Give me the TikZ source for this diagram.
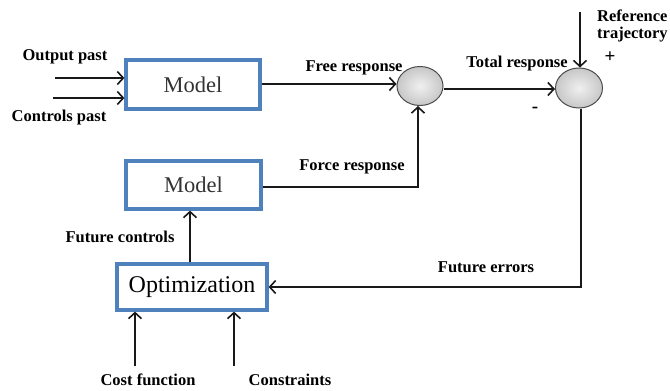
\documentclass[tikz,border=0pt]{standalone}
\usepackage{fontspec}
\setmainfont{Liberation Serif}
\usetikzlibrary{arrows.meta,shapes.geometric}
\definecolor{boxblue}{HTML}{4F81BD}
\tikzset{
  blk/.style={draw=boxblue, line width=3.2pt, fill=white, inner sep=0pt},
  sumnode/.style={ellipse, draw=black!70, line width=1pt, inner sep=0pt,
    minimum width=46pt, minimum height=39pt, shading=radial,
    inner color=black!6, outer color=black!22},
  wire/.style={line width=1.7pt, black!90},
  arr/.style={wire, -{Straight Barb[length=6pt,width=13pt,line width=1.6pt]}},
  lbl/.style={font=\fontsize{16.5}{18}\selectfont\bfseries, inner sep=0pt}
}
\begin{document}
\begin{tikzpicture}[x=1pt,y=-1pt]
\useasboundingbox (0,0) rectangle (670,391);
\clip (0,0) rectangle (670,391);
\fill[white] (0,0) rectangle (670,391);

% blocks
\node[blk, minimum width=134pt, minimum height=49pt,
  font=\fontsize{22.5}{24}\selectfont, text=black!80] (m1) at (193,84.5) {Model};
\node[blk, minimum width=135pt, minimum height=48pt,
  font=\fontsize{22.5}{24}\selectfont, text=black!80] (m2) at (193.5,185) {Model};
\node[blk, minimum width=150pt, minimum height=46pt,
  font=\fontsize{24}{26}\selectfont] (opt) at (192,287) {Optimization};

% summing junctions
\node[sumnode] (s1) at (420,86) {};
\node[sumnode, minimum width=47pt, minimum height=40pt] (s2) at (579,88) {};

% free ends
\coordinate (op) at (55,78);
\coordinate (cp) at (53,98);
\coordinate (ref) at (580,12);
\coordinate (cf) at (135,366);
\coordinate (cs) at (234,366);

% past inputs
\draw[arr] (op) -- (op -| m1.west);
\draw[arr] (cp) -- (cp -| m1.west);

% responses
\draw[arr] (m1.east |- 0,84) -- (s1.west |- 0,84);
\draw[arr] (m2.east |- 0,187) -| (418,0 |- s1.south);
\draw[arr] (s1.east |- 0,89) -- (s2.west |- 0,89);
\draw[arr] (ref) -- (s2.north -| ref);

% error feedback and control path
\draw[arr] (s2.south -| 581,0) |- (opt.east |- 0,287);
\draw[arr] (opt.north -| 190,0) -- (m2.south -| 190,0);
\draw[arr] (cf) -- (opt.south -| cf);
\draw[arr] (cs) -- (opt.south -| cs);

% labels
\node[lbl] (lop) at (65,57) {Output past};
\node[lbl] (lcp) at (59,118) {Controls past};
\node[lbl] (lfr) at (354,68) {Free response};
\node[lbl] (ltr) at (517,64) {Total response};
\node[lbl, anchor=west] (lref) at (597,16) {Reference};
\node[lbl, anchor=west] (ltraj) at (597,35) {trajectory};
\node[lbl, font=\fontsize{19}{20}\selectfont\bfseries] (lplus) at (610,57) {+};
\node[lbl, font=\fontsize{19}{20}\selectfont\bfseries] (lminus) at (535,110) {-};
\node[lbl] (lfo) at (352,167) {Force response};
\node[lbl] (lfc) at (120,237) {Future controls};
\node[lbl] (lfe) at (486,267) {Future errors};
\node[lbl] (lcf) at (148,380) {Cost function};
\node[lbl] (lcs) at (290,380) {Constraints};
\end{tikzpicture}
\end{document}
